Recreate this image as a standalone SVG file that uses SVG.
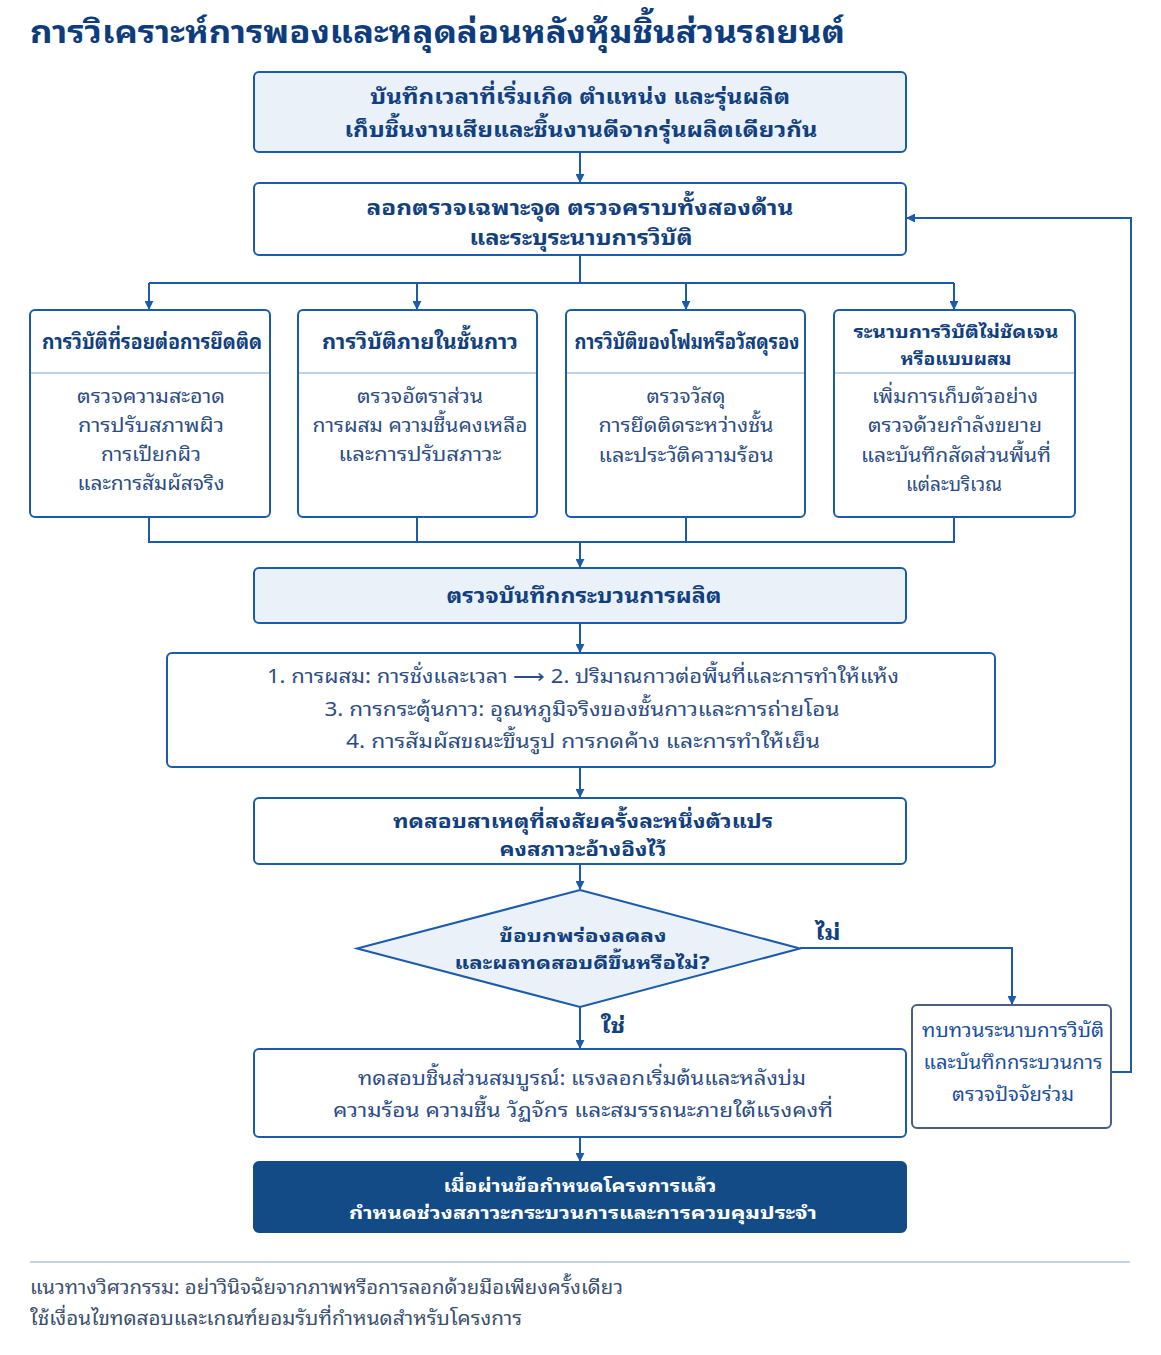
<svg xmlns="http://www.w3.org/2000/svg" width="1161" height="1355" viewBox="0 0 1161 1355">
<style>
text{font-family:"Noto Sans Thai Looped","Noto Sans Thai","Noto Sans","Liberation Sans",sans-serif;text-anchor:middle}
.box{fill:#ffffff;stroke:#1b5bab;stroke-width:2}
.lt{fill:#eaf1f9;stroke:#1b5bab;stroke-width:2}
.h{font-size:21px;font-weight:bold;fill:#123f7f}
.h2{font-size:19px;font-weight:bold;fill:#123f7f}
.h3{font-size:18px;font-weight:bold;fill:#123f7f}
.b{font-size:20px;fill:#2c4d84}
.sep{stroke:#a9c4e3;stroke-width:1.5}
.ln{fill:none;stroke:#1b5bab;stroke-width:2}
.lbl{font-size:21px;font-weight:bold;fill:#123f7f}
</style>
<defs>
<marker id="ar" viewBox="0 0 10 10" refX="9" refY="5" markerWidth="9" markerHeight="9" markerUnits="userSpaceOnUse" orient="auto">
<path d="M0,0 L10,5 L0,10 z" fill="#1b5bab"/>
</marker>
</defs>
<rect width="1161" height="1355" fill="#ffffff"/>
<text x="30" y="43" textLength="815" lengthAdjust="spacingAndGlyphs" style="text-anchor:start;font-size:32px;font-weight:bold;fill:#0d3d7c">การวิเคราะห์การพองและหลุดล่อนหลังหุ้มชิ้นส่วนรถยนต์</text>

<g id="connectors">
<path class="ln" d="M580,152 V182" marker-end="url(#ar)"/>
<path class="ln" d="M580,255 V283 M149,283 H954"/>
<path class="ln" d="M149,283 V309" marker-end="url(#ar)"/>
<path class="ln" d="M417,283 V309" marker-end="url(#ar)"/>
<path class="ln" d="M686,283 V309" marker-end="url(#ar)"/>
<path class="ln" d="M954,283 V309" marker-end="url(#ar)"/>
<path class="ln" d="M149,517 V542 H954 V517 M417,517 V542 M686,517 V542"/>
<path class="ln" d="M580,542 V567" marker-end="url(#ar)"/>
<path class="ln" d="M580,623 V652" marker-end="url(#ar)"/>
<path class="ln" d="M580,767 V797" marker-end="url(#ar)"/>
<path class="ln" d="M580,864 V889" marker-end="url(#ar)"/>
<path class="ln" d="M580,1007 V1048" marker-end="url(#ar)"/>
<path class="ln" d="M800,948 H1012 V1004" marker-end="url(#ar)"/>
<path class="ln" d="M1111,1072 H1131 V218 H907" marker-end="url(#ar)"/>
<path class="ln" d="M580,1137 V1161" marker-end="url(#ar)"/>
<text class="lbl" x="828" y="940" textLength="25" lengthAdjust="spacingAndGlyphs">ไม่</text>
<text class="lbl" x="613" y="1033" textLength="24" lengthAdjust="spacingAndGlyphs">ใช่</text>
</g>

<g id="n1">
<rect class="lt" x="254" y="72" width="652" height="80" rx="5"/>
<text class="h" x="580" y="104" textLength="420" lengthAdjust="spacingAndGlyphs">บันทึกเวลาที่เริ่มเกิด ตำแหน่ง และรุ่นผลิต</text>
<text class="h" x="581" y="137" textLength="473" lengthAdjust="spacingAndGlyphs">เก็บชิ้นงานเสียและชิ้นงานดีจากรุ่นผลิตเดียวกัน</text>
</g>
<g id="n2">
<rect class="box" x="254" y="183" width="652" height="72" rx="5"/>
<text class="h" x="580" y="215" textLength="427" lengthAdjust="spacingAndGlyphs">ลอกตรวจเฉพาะจุด ตรวจคราบทั้งสองด้าน</text>
<text class="h" x="581" y="245" textLength="223" lengthAdjust="spacingAndGlyphs">และระบุระนาบการวิบัติ</text>
</g>
<g id="nA">
<rect class="box" x="30" y="310" width="240" height="207" rx="5"/>
<line class="sep" x1="31" y1="373" x2="269" y2="373"/>
<text class="h" x="152" y="349" textLength="220" lengthAdjust="spacingAndGlyphs">การวิบัติที่รอยต่อการยึดติด</text>
<text class="b" x="151" y="403" textLength="148" lengthAdjust="spacingAndGlyphs">ตรวจความสะอาด</text>
<text class="b" x="151" y="432" textLength="146" lengthAdjust="spacingAndGlyphs">การปรับสภาพผิว</text>
<text class="b" x="151" y="461" textLength="100" lengthAdjust="spacingAndGlyphs">การเปียกผิว</text>
<text class="b" x="151" y="490" textLength="147" lengthAdjust="spacingAndGlyphs">และการสัมผัสจริง</text>
</g>
<g id="nB">
<rect class="box" x="298" y="310" width="239" height="207" rx="5"/>
<line class="sep" x1="299" y1="373" x2="536" y2="373"/>
<text class="h" x="420" y="349" textLength="196" lengthAdjust="spacingAndGlyphs">การวิบัติภายในชั้นกาว</text>
<text class="b" x="420" y="403" textLength="126" lengthAdjust="spacingAndGlyphs">ตรวจอัตราส่วน</text>
<text class="b" x="420" y="432" textLength="215" lengthAdjust="spacingAndGlyphs">การผสม ความชื้นคงเหลือ</text>
<text class="b" x="420" y="461" textLength="163" lengthAdjust="spacingAndGlyphs">และการปรับสภาวะ</text>
</g>
<g id="nC">
<rect class="box" x="566" y="310" width="239" height="207" rx="5"/>
<line class="sep" x1="567" y1="373" x2="804" y2="373"/>
<text class="h" x="687" y="349" textLength="225" lengthAdjust="spacingAndGlyphs">การวิบัติของโฟมหรือวัสดุรอง</text>
<text class="b" x="686" y="403" textLength="79" lengthAdjust="spacingAndGlyphs">ตรวจวัสดุ</text>
<text class="b" x="686" y="432" textLength="175" lengthAdjust="spacingAndGlyphs">การยึดติดระหว่างชั้น</text>
<text class="b" x="686" y="462" textLength="175" lengthAdjust="spacingAndGlyphs">และประวัติความร้อน</text>
</g>
<g id="nD">
<rect class="box" x="834" y="310" width="241" height="207" rx="5"/>
<line class="sep" x1="835" y1="373" x2="1074" y2="373"/>
<text class="h3" x="956" y="338" textLength="205" lengthAdjust="spacingAndGlyphs">ระนาบการวิบัติไม่ชัดเจน</text>
<text class="h3" x="956" y="365" textLength="111" lengthAdjust="spacingAndGlyphs">หรือแบบผสม</text>
<text class="b" x="955" y="403" textLength="166" lengthAdjust="spacingAndGlyphs">เพิ่มการเก็บตัวอย่าง</text>
<text class="b" x="955" y="432" textLength="174" lengthAdjust="spacingAndGlyphs">ตรวจด้วยกำลังขยาย</text>
<text class="b" x="956" y="462" textLength="190" lengthAdjust="spacingAndGlyphs">และบันทึกสัดส่วนพื้นที่</text>
<text class="b" x="954" y="491" textLength="96" lengthAdjust="spacingAndGlyphs">แต่ละบริเวณ</text>
</g>
<g id="n3">
<rect class="lt" x="254" y="568" width="652" height="55" rx="5"/>
<text class="h" x="584" y="603" textLength="275" lengthAdjust="spacingAndGlyphs">ตรวจบันทึกกระบวนการผลิต</text>
</g>
<g id="n4">
<rect class="box" x="167" y="653" width="828" height="114" rx="5"/>
<text class="b" x="583" y="683" textLength="632" lengthAdjust="spacingAndGlyphs">1. การผสม: การชั่งและเวลา ⟶ 2. ปริมาณกาวต่อพื้นที่และการทำให้แห้ง</text>
<text class="b" x="582" y="716" textLength="515" lengthAdjust="spacingAndGlyphs">3. การกระตุ้นกาว: อุณหภูมิจริงของชั้นกาวและการถ่ายโอน</text>
<text class="b" x="583" y="748" textLength="474" lengthAdjust="spacingAndGlyphs">4. การสัมผัสขณะขึ้นรูป การกดค้าง และการทำให้เย็น</text>
</g>
<g id="n5">
<rect class="box" x="254" y="798" width="652" height="66" rx="5"/>
<text class="h2" x="583" y="828" textLength="380" lengthAdjust="spacingAndGlyphs">ทดสอบสาเหตุที่สงสัยครั้งละหนึ่งตัวแปร</text>
<text class="h2" x="583" y="856" textLength="167" lengthAdjust="spacingAndGlyphs">คงสภาวะอ้างอิงไว้</text>
</g>
<g id="n6">
<path d="M580,890 L800,948.5 L580,1007 L357,948.5 Z" fill="#eaf1f9" stroke="#1b5bab" stroke-width="2"/>
<text class="h3" x="583" y="942" textLength="167" lengthAdjust="spacingAndGlyphs">ข้อบกพร่องลดลง</text>
<text class="h3" x="582" y="969" textLength="255" lengthAdjust="spacingAndGlyphs">และผลทดสอบดีขึ้นหรือไม่?</text>
</g>
<g id="n7">
<rect x="912" y="1005" width="199" height="123" rx="5" fill="#ffffff" stroke="#4a5f80" stroke-width="2"/>
<text class="b" x="1013" y="1037" textLength="182" lengthAdjust="spacingAndGlyphs" style="fill:#1b4f9a">ทบทวนระนาบการวิบัติ</text>
<text class="b" x="1013" y="1069" textLength="179" lengthAdjust="spacingAndGlyphs" style="fill:#1b4f9a">และบันทึกกระบวนการ</text>
<text class="b" x="1013" y="1101" textLength="122" lengthAdjust="spacingAndGlyphs" style="fill:#1b4f9a">ตรวจปัจจัยร่วม</text>
</g>
<g id="n8">
<rect class="box" x="254" y="1049" width="652" height="88" rx="5"/>
<text class="b" x="582" y="1085" textLength="448" lengthAdjust="spacingAndGlyphs">ทดสอบชิ้นส่วนสมบูรณ์: แรงลอกเริ่มต้นและหลังบ่ม</text>
<text class="b" x="583" y="1117" textLength="500" lengthAdjust="spacingAndGlyphs">ความร้อน ความชื้น วัฏจักร และสมรรถนะภายใต้แรงคงที่</text>
</g>
<g id="n9">
<rect x="254" y="1162" width="652" height="70" rx="5" fill="#134b87" stroke="#134b87" stroke-width="2"/>
<text x="580" y="1192" textLength="273" lengthAdjust="spacingAndGlyphs" style="font-size:18px;font-weight:bold;fill:#ffffff">เมื่อผ่านข้อกำหนดโครงการแล้ว</text>
<text x="583" y="1219" textLength="468" lengthAdjust="spacingAndGlyphs" style="font-size:18px;font-weight:bold;fill:#ffffff">กำหนดช่วงสภาวะกระบวนการและการควบคุมประจำ</text>
</g>
<line x1="30" y1="1262" x2="1130" y2="1262" stroke="#c5d3e5" stroke-width="2"/>
<g id="footer">
<text x="30" y="1294" textLength="593" lengthAdjust="spacingAndGlyphs" style="text-anchor:start;font-size:19px;fill:#3a4f6e">แนวทางวิศวกรรม: อย่าวินิจฉัยจากภาพหรือการลอกด้วยมือเพียงครั้งเดียว</text>
<text x="30" y="1325" textLength="492" lengthAdjust="spacingAndGlyphs" style="text-anchor:start;font-size:19px;fill:#3a4f6e">ใช้เงื่อนไขทดสอบและเกณฑ์ยอมรับที่กำหนดสำหรับโครงการ</text>
</g>
</svg>
